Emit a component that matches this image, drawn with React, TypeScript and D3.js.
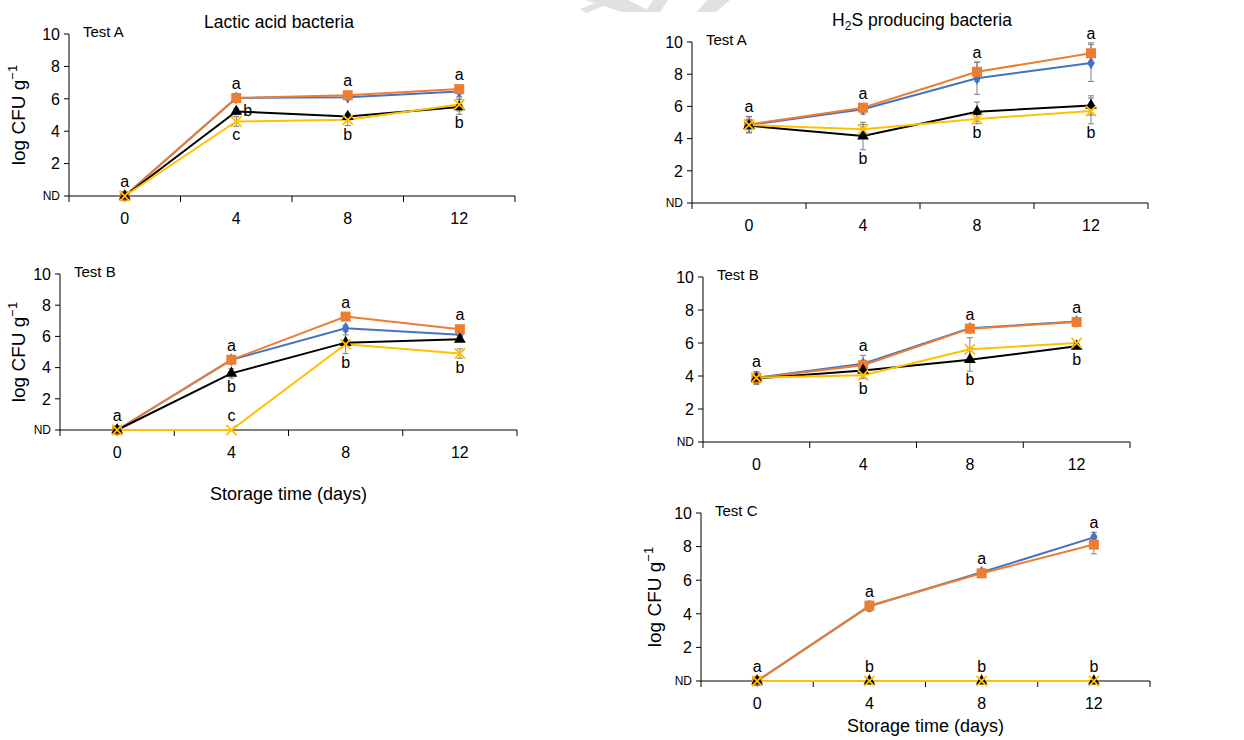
import React from "react";
import * as d3 from "d3";

// shared axis values
const days = ["0", "4", "8", "12"];
const yTicks = [0, 2, 4, 6, 8, 10];

// Lactic acid bacteria - Test A
const labA_blue = [0, 6.05, 6.1, 6.45];
const labA_orange = [0, 6.05, 6.22, 6.6];
const labA_black = [0, 5.22, 4.9, 5.5];
const labA_yellow = [0, 4.6, 4.7, 5.65];
const labA_blueErr = [0.1, 0.1, 0.15, 0.3];
const labA_orangeErr = [0.1, 0.1, 0.1, 0.1];
const labA_blackErr = [0.1, 0.2, 0.2, 0.45];
const labA_yellowErr = [0.1, 0.3, 0.35, 0.4];

// Lactic acid bacteria - Test B
const labB_blue = [0, 4.5, 6.52, 6.1];
const labB_orange = [0, 4.5, 7.27, 6.46];
const labB_black = [0, 3.63, 5.6, 5.81];
const labB_yellow = [0, 0, 5.5, 4.9];
const labB_blueErr = [0.1, 0.1, 0.2, 0.1];
const labB_orangeErr = [0.1, 0.1, 0.1, 0.1];
const labB_blackErr = [0.1, 0.3, 0.1, 0.1];
const labB_yellowErr = [0, 0, 0.6, 0.3];

// H2S producing bacteria - Test A
const h2sA_blue = [4.85, 5.82, 7.75, 8.7];
const h2sA_orange = [4.88, 5.92, 8.15, 9.3];
const h2sA_black = [4.8, 4.16, 5.67, 6.06];
const h2sA_yellow = [4.85, 4.58, 5.22, 5.72];
const h2sA_blueErr = [0.5, 0.3, 1.0, 1.15];
const h2sA_orangeErr = [0.5, 0.15, 0.6, 0.65];
const h2sA_blackErr = [0.4, 0.85, 0.6, 0.6];
const h2sA_yellowErr = [0.3, 0.3, 0.3, 0.8];

// H2S producing bacteria - Test B
const h2sB_blue = [3.9, 4.75, 6.9, 7.3];
const h2sB_orange = [3.88, 4.65, 6.87, 7.27];
const h2sB_black = [3.85, 4.34, 4.99, 5.8];
const h2sB_yellow = [3.9, 4.04, 5.62, 6.0];
const h2sB_blueErr = [0.2, 0.5, 0.1, 0.1];
const h2sB_orangeErr = [0.4, 0.3, 0.1, 0.1];
const h2sB_blackErr = [0.3, 0.2, 0.7, 0.15];
const h2sB_yellowErr = [0.3, 0.2, 0.7, 0.1];

// H2S producing bacteria - Test C
const h2sC_blue = [0, 4.45, 6.47, 8.55];
const h2sC_orange = [0, 4.48, 6.41, 8.12];
const h2sC_black = [0, 0, 0, 0];
const h2sC_yellow = [0, 0, 0, 0];
const h2sC_blueErr = [0, 0.3, 0.15, 0.3];
const h2sC_orangeErr = [0, 0.2, 0.15, 0.55];
const h2sC_blackErr = [0, 0, 0, 0];
const h2sC_yellowErr = [0, 0, 0, 0];

// significance letters: [day, letter, series, position]
type Letter = [string, string, string, string];
const labA_letters: Letter[] = [
  ["0", "a", "orange", "above"], ["4", "a", "orange", "above"], ["4", "b", "black", "right"],
  ["4", "c", "yellow", "below"], ["8", "a", "orange", "above"], ["8", "b", "yellow", "below"],
  ["12", "a", "orange", "above"], ["12", "b", "black", "below"],
];
const labB_letters: Letter[] = [
  ["0", "a", "orange", "above"], ["4", "a", "orange", "above"], ["4", "b", "black", "below"],
  ["4", "c", "yellow", "above"], ["8", "a", "orange", "above"], ["8", "b", "yellow", "below"],
  ["12", "a", "orange", "above"], ["12", "b", "yellow", "below"],
];
const h2sA_letters: Letter[] = [
  ["0", "a", "orange", "above"], ["4", "a", "orange", "above"], ["4", "b", "black", "below"],
  ["8", "a", "orange", "above"], ["8", "b", "yellow", "below"],
  ["12", "a", "orange", "above"], ["12", "b", "yellow", "below"],
];
const h2sB_letters: Letter[] = [
  ["0", "a", "orange", "above"], ["4", "a", "blue", "above"], ["4", "b", "yellow", "below"],
  ["8", "a", "orange", "above"], ["8", "b", "black", "below"],
  ["12", "a", "blue", "above"], ["12", "b", "black", "below"],
];
const h2sC_letters: Letter[] = [
  ["0", "a", "orange", "above"], ["4", "a", "orange", "above"], ["4", "b", "black", "above"],
  ["8", "a", "orange", "above"], ["8", "b", "black", "above"],
  ["12", "a", "blue", "above"], ["12", "b", "black", "above"],
];

const FONT = "'Liberation Sans', Arial, sans-serif";
const symX = (d3 as any).symbolX || (d3 as any).symbolTimes;

const STYLE: Record<string, { color: string; sym: any; size: number; stroke?: boolean }> = {
  blue: { color: "#4472C4", sym: d3.symbolDiamond, size: 48 },
  orange: { color: "#ED7D31", sym: d3.symbolSquare, size: 100 },
  black: { color: "#000000", sym: d3.symbolTriangle, size: 60 },
  yellow: { color: "#FFC000", sym: symX || d3.symbolCross, size: 70, stroke: !!symX },
};
const ORDER = ["blue", "orange", "black", "yellow"];

interface PanelProps {
  left: number; right: number; top: number; bottom: number;
  values: Record<string, number[]>;
  errs: Record<string, number[]>;
  letters: Letter[];
  test: string;
  yLabelX?: number;
  xLabelY?: number;
}

const Panel: React.FC<PanelProps> = ({ left, right, top, bottom, values, errs, letters, test, yLabelX, xLabelY }) => {
  const x = d3.scaleBand<string>().domain(days).range([left, right]);
  const y = d3.scaleLinear().domain([0, 10]).range([bottom, top]);
  const cx = (d: string) => (x(d) as number) + x.bandwidth() / 2;
  const line = d3.line<number>().x((_, i) => cx(days[i])).y((v) => y(v));
  const bounds = [...days.map((d) => x(d) as number), right];

  return (
    <g fontFamily={FONT}>
      {/* y axis */}
      <line x1={left} x2={left} y1={top} y2={bottom} stroke="#000" />
      {yTicks.map((t) => (
        <g key={t}>
          <line x1={left - 5} x2={left} y1={y(t)} y2={y(t)} stroke="#000" />
          <text x={left - 9} y={y(t)} dy="0.36em" textAnchor="end" fontSize={t === 0 ? 12 : 16}>
            {t === 0 ? "ND" : t}
          </text>
        </g>
      ))}
      {/* x axis */}
      <line x1={left} x2={right} y1={bottom} y2={bottom} stroke="#000" />
      {bounds.map((b, i) => (
        <line key={i} x1={b} x2={b} y1={bottom} y2={bottom + 6} stroke="#000" />
      ))}
      {days.map((d) => (
        <text key={d} x={cx(d)} y={bottom + 28} textAnchor="middle" fontSize={16}>{d}</text>
      ))}
      <text x={left + 14} y={top + 3} fontSize={15}>{test}</text>

      {yLabelX !== undefined && (
        <text transform={`translate(${yLabelX},${(top + bottom) / 2}) rotate(-90)`} textAnchor="middle" fontSize={19}>
          log CFU g<tspan dy={-8} fontSize={13}>−1</tspan>
        </text>
      )}
      {xLabelY !== undefined && (
        <text x={(left + right) / 2} y={xLabelY} textAnchor="middle" fontSize={18}>Storage time (days)</text>
      )}

      {/* lines */}
      {ORDER.map((k) => (
        <path key={k} d={line(values[k]) || ""} fill="none" stroke={STYLE[k].color} strokeWidth={2} />
      ))}
      {/* error bars */}
      {ORDER.map((k) =>
        values[k].map((v, i) => {
          const e = errs[k][i];
          if (!e) return null;
          const px = cx(days[i]);
          return (
            <g key={k + i} stroke="#7f7f7f" strokeWidth={1}>
              <line x1={px} x2={px} y1={y(v - e)} y2={y(v + e)} />
              <line x1={px - 3} x2={px + 3} y1={y(v - e)} y2={y(v - e)} />
              <line x1={px - 3} x2={px + 3} y1={y(v + e)} y2={y(v + e)} />
            </g>
          );
        })
      )}
      {/* markers */}
      {ORDER.map((k) =>
        values[k].map((v, i) => {
          const s = STYLE[k];
          return (
            <path
              key={k + i}
              transform={`translate(${cx(days[i])},${y(v)})`}
              d={d3.symbol(s.sym, s.size)() || ""}
              fill={s.stroke ? "none" : s.color}
              stroke={s.stroke ? s.color : "none"}
              strokeWidth={1.8}
            />
          );
        })
      )}
      {/* letters */}
      {letters.map(([d, t, k, pos], i) => {
        const idx = days.indexOf(d);
        const v = values[k][idx];
        const e = errs[k][idx] || 0;
        const px = cx(d);
        let ly = 0, lx = px, anchor = "middle";
        if (pos === "above") ly = Math.min(y(v + e), y(v) - 5) - 4;
        else if (pos === "below") ly = Math.max(y(v - e), y(v) + 5) + 14;
        else { lx = px + 7; ly = y(v) + 5; anchor = "start"; }
        return (
          <text key={i} x={lx} y={ly} textAnchor={anchor} fontSize={16}>{t}</text>
        );
      })}
    </g>
  );
};

export default function App() {
  return (
    <svg width={1244} height={740} style={{ position: "absolute", left: 0, top: 0, background: "#fff" }}>
      <rect width={1244} height={740} fill="#fff" />
      {/* faint watermark fragments at the top edge */}
      <g fill="#e1e1e1">
        <polygon points="585,0 628,0 652,12 622,12" />
        <polygon points="580,9 598,2 603,6 586,13" />
        <polygon points="653,0 668,0 660,12 645,12" />
        <polygon points="707,0 730,0 716,12 697,12" />
      </g>

      <text x={279} y={28} textAnchor="middle" fontFamily={FONT} fontSize={17.5}>Lactic acid bacteria</text>
      <text x={922} y={26} textAnchor="middle" fontFamily={FONT} fontSize={17.5}>
        H<tspan dy={4} fontSize={12}>2</tspan><tspan dy={-4}>S producing bacteria</tspan>
      </text>

      <Panel left={69} right={515} top={34} bottom={196} test="Test A" yLabelX={25}
        values={{ blue: labA_blue, orange: labA_orange, black: labA_black, yellow: labA_yellow }}
        errs={{ blue: labA_blueErr, orange: labA_orangeErr, black: labA_blackErr, yellow: labA_yellowErr }}
        letters={labA_letters} />
      <Panel left={60} right={517} top={274} bottom={430} test="Test B" yLabelX={25} xLabelY={500}
        values={{ blue: labB_blue, orange: labB_orange, black: labB_black, yellow: labB_yellow }}
        errs={{ blue: labB_blueErr, orange: labB_orangeErr, black: labB_blackErr, yellow: labB_yellowErr }}
        letters={labB_letters} />
      <Panel left={692} right={1148} top={42} bottom={203} test="Test A"
        values={{ blue: h2sA_blue, orange: h2sA_orange, black: h2sA_black, yellow: h2sA_yellow }}
        errs={{ blue: h2sA_blueErr, orange: h2sA_orangeErr, black: h2sA_blackErr, yellow: h2sA_yellowErr }}
        letters={h2sA_letters} />
      <Panel left={703} right={1130} top={277} bottom={442} test="Test B"
        values={{ blue: h2sB_blue, orange: h2sB_orange, black: h2sB_black, yellow: h2sB_yellow }}
        errs={{ blue: h2sB_blueErr, orange: h2sB_orangeErr, black: h2sB_blackErr, yellow: h2sB_yellowErr }}
        letters={h2sB_letters} />
      <Panel left={701} right={1150} top={513} bottom={681} test="Test C" yLabelX={661} xLabelY={732}
        values={{ blue: h2sC_blue, orange: h2sC_orange, black: h2sC_black, yellow: h2sC_yellow }}
        errs={{ blue: h2sC_blueErr, orange: h2sC_orangeErr, black: h2sC_blackErr, yellow: h2sC_yellowErr }}
        letters={h2sC_letters} />
    </svg>
  );
}
